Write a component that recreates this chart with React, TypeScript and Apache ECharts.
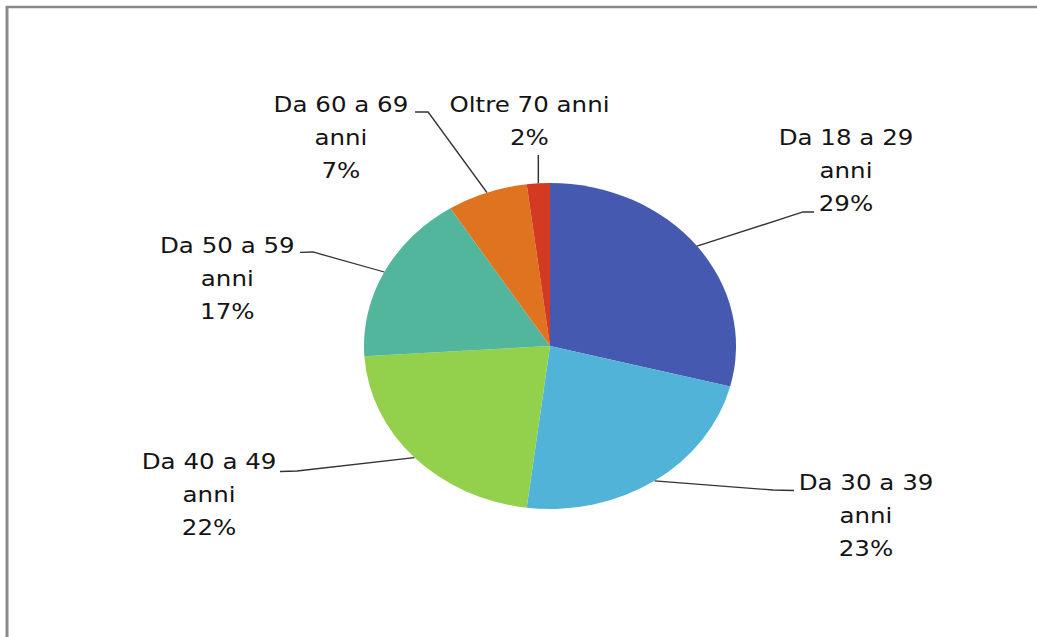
import React, { useEffect, useRef } from "react";
import * as echarts from "echarts";

// ---- data ----
const CATEGORIES = [
  "Da 18 a 29 anni",
  "Da 30 a 39 anni",
  "Da 40 a 49 anni",
  "Da 50 a 59 anni",
  "Da 60 a 69 anni",
  "Oltre 70 anni",
];
const VALUES = [29, 23, 22, 17, 7, 2];
const COLORS = ["#4459AF", "#52B3D8", "#93D04B", "#52B69C", "#E0731F", "#D43A22"];

// ---- layout (unscaled coordinates; the chart is stretched horizontally) ----
const SX = 1.1411;
const W = 909;
const H = 637;
const LABEL_CENTER: [number, number][] = [
  [741.4, 171],
  [758.9, 516],
  [183.2, 495],
  [199.2, 278.5],
  [298.8, 138],
  [464.0, 121.5],
];
// [bendX, bendY, endX, endY]; null x = keep the edge point's x
const LEADER: (number | null)[][] = [
  [703.7, 212, 713.4, 212],
  [677.4, 490, 695.8, 490.5],
  [260.3, 471, 245.4, 471.5],
  [274.3, 252, 262.9, 252.3],
  [375.1, 112, 363.7, 112],
  [null, 155, null, 155],
];

export default function App() {
  const ref = useRef<HTMLDivElement>(null);
  useEffect(() => {
    if (!ref.current) return;
    const chart = echarts.init(ref.current, null, { renderer: "svg" });
    chart.setOption({
      animation: false,
      backgroundColor: "#ffffff",
      graphic: [
        {
          type: "rect",
          shape: { x: 7 / SX, y: 7, width: 2000, height: 2000 },
          style: { fill: "none", stroke: "#8a8a8a", lineWidth: 2.6 },
          silent: true,
        },
      ],
      series: [
        {
          type: "pie",
          center: [482, 346],
          radius: 163,
          startAngle: 90,
          clockwise: true,
          silent: true,
          itemStyle: { borderWidth: 0 },
          data: CATEGORIES.map((n, i) => ({
            name: n,
            value: VALUES[i],
            itemStyle: { color: COLORS[i] },
          })),
          label: {
            show: true,
            position: "outside",
            fontFamily: "DejaVu Sans",
            fontSize: 21.5,
            lineHeight: 33,
            color: "#141414",
            align: "center",
            formatter: (p: any) => {
              const name: string = p.name.startsWith("Da")
                ? p.name.replace(" anni", "\nanni")
                : p.name;
              return name + "\n" + p.value + "%";
            },
          },
          labelLine: {
            show: true,
            length: 10,
            length2: 10,
            lineStyle: { color: "#333333", width: 1.3 },
          },
          labelLayout: (params: any) => {
            const i = params.dataIndex;
            const c = LABEL_CENTER[i];
            const l = LEADER[i];
            const p0 = params.labelLinePoints ? params.labelLinePoints[0] : [0, 0];
            const bx = l[0] == null ? p0[0] : (l[0] as number);
            const ex = l[2] == null ? p0[0] : (l[2] as number);
            return {
              x: c[0],
              y: c[1],
              align: "center",
              verticalAlign: "middle",
              labelLinePoints: [
                [p0[0], p0[1]],
                [bx, l[1] as number],
                [ex, l[3] as number],
              ],
            };
          },
        },
      ],
    });
    return () => chart.dispose();
  }, []);
  return (
    <div
      style={{
        position: "absolute",
        left: 0,
        top: 0,
        width: 1037,
        height: 637,
        overflow: "hidden",
        background: "#fff",
      }}
    >
      <div
        ref={ref}
        style={{
          width: W,
          height: H,
          transform: `scaleX(${SX})`,
          transformOrigin: "0 0",
        }}
      />
    </div>
  );
}
